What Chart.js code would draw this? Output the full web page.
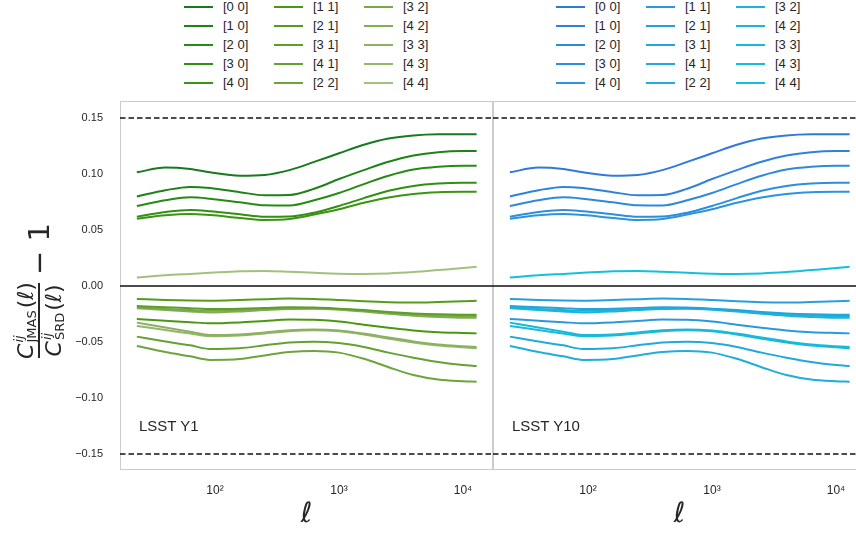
<!DOCTYPE html>
<html><head><meta charset="utf-8">
<script src="https://cdn.jsdelivr.net/npm/chart.js@4.4.0/dist/chart.umd.min.js"></script>
<style>
html,body{margin:0;padding:0;width:856px;height:535px;overflow:hidden;background:#fff;}
#wrap{position:relative;width:856px;height:535px;overflow:hidden;font-family:"Liberation Sans",Arial,sans-serif;color:#262626;}
canvas{position:absolute;}
.leg{position:absolute;font-size:13px;line-height:14px;height:14px;white-space:nowrap;}
.leg i{position:absolute;left:0;top:6px;width:29px;height:2px;}
.leg span{position:absolute;left:39px;top:0;}
.tag{position:absolute;font-size:15px;line-height:16px;white-space:nowrap;}
#ylab{position:absolute;font-family:"DejaVu Sans",sans-serif;color:#262626;white-space:nowrap;
 display:flex;align-items:center;justify-content:center;transform:rotate(-90deg);transform-origin:50% 50%;}
.frac{display:inline-flex;flex-direction:column;align-items:center;}
.num,.den{display:flex;align-items:center;font-size:22px;line-height:23px;padding:0 2px;}
.den{border-top:2px solid #262626;}
.ss{display:inline-flex;flex-direction:column;font-size:13px;line-height:13px;margin-left:1px;margin-right:2px;}
.ss .sp{font-style:italic;}
.m1{font-size:29px;margin-left:5px;}
</style>
</head><body><div id="wrap">
<canvas id="c1" width="493" height="440" style="left:0;top:95px;width:493px;height:440px"></canvas>
<canvas id="c2" width="373" height="440" style="left:493px;top:95px;width:373px;height:440px"></canvas>
<div id="ylab"><span class="frac"><span class="num"><i>C</i><span class="ss"><span class="sp">ij</span><span>JMAS</span></span>(<i>ℓ</i>)</span><span class="den"><i>C</i><span class="ss"><span class="sp">ij</span><span>SRD</span></span>(<i>ℓ</i>)</span></span><span class="m1">− 1</span></div>
<div class="tag" style="left:139px;top:418px">LSST Y1</div>
<div class="tag" style="left:512px;top:418px">LSST Y10</div>
</div>
<script>
// ---------- data ----------
const ell = [23.44, 39.81, 63.10, 91.20, 158.5, 251.2, 398.1, 631.0, 1000, 1585, 2512, 3981, 6310, 10000, 12882];
const labels = ['[0 0]','[1 0]','[2 0]','[3 0]','[4 0]','[1 1]','[2 1]','[3 1]','[4 1]','[2 2]','[3 2]','[4 2]','[3 3]','[4 3]','[4 4]'];
const s00 = [0.1015,0.1058,0.1045,0.1015,0.0985,0.0992,0.1035,0.1108,0.1185,0.1262,0.1318,0.1345,0.1355,0.1356,0.1355];
const s10 = [0.0800,0.0855,0.0885,0.0875,0.0838,0.0810,0.0812,0.0868,0.0955,0.1035,0.1110,0.1165,0.1195,0.1205,0.1205];
const s20 = [0.0714,0.0765,0.0792,0.0780,0.0748,0.0720,0.0718,0.0765,0.0830,0.0910,0.0985,0.1040,0.1065,0.1074,0.1074];
const s30 = [0.0619,0.0660,0.0679,0.0668,0.0640,0.0618,0.0620,0.0655,0.0715,0.0785,0.0850,0.0893,0.0915,0.0922,0.0922];
const s40 = [0.0601,0.0632,0.0643,0.0633,0.0608,0.0590,0.0598,0.0638,0.0685,0.0743,0.0790,0.0822,0.0838,0.0842,0.0842];
const s11 = [-0.0295,-0.0310,-0.0323,-0.0333,-0.0325,-0.0312,-0.0300,-0.0302,-0.0318,-0.0345,-0.0373,-0.0398,-0.0413,-0.0420,-0.0423];
const s21 = [-0.0116,-0.0125,-0.0130,-0.0131,-0.0125,-0.0118,-0.0112,-0.0115,-0.0125,-0.0137,-0.0145,-0.0147,-0.0143,-0.0137,-0.0132];
const s31 = [-0.0178,-0.0190,-0.0198,-0.0205,-0.0202,-0.0196,-0.0190,-0.0192,-0.0202,-0.0215,-0.0232,-0.0245,-0.0253,-0.0256,-0.0256];
const s41 = [-0.0452,-0.0495,-0.0530,-0.0562,-0.0555,-0.0530,-0.0505,-0.0497,-0.0510,-0.0545,-0.0595,-0.0640,-0.0678,-0.0705,-0.0714];
const s22 = [-0.0536,-0.0590,-0.0628,-0.0660,-0.0652,-0.0620,-0.0590,-0.0580,-0.0595,-0.0650,-0.0725,-0.0795,-0.0835,-0.0850,-0.0854];
const s32 = [-0.0190,-0.0205,-0.0215,-0.0222,-0.0215,-0.0205,-0.0198,-0.0198,-0.0206,-0.0220,-0.0238,-0.0253,-0.0263,-0.0268,-0.0268];
const s42 = [-0.0198,-0.0215,-0.0228,-0.0236,-0.0228,-0.0215,-0.0205,-0.0204,-0.0212,-0.0228,-0.0248,-0.0265,-0.0277,-0.0283,-0.0283];
const s33 = [-0.0327,-0.0370,-0.0408,-0.0438,-0.0432,-0.0415,-0.0395,-0.0388,-0.0398,-0.0425,-0.0460,-0.0495,-0.0522,-0.0538,-0.0545];
const s43 = [-0.0357,-0.0393,-0.0425,-0.0448,-0.0442,-0.0424,-0.0403,-0.0395,-0.0405,-0.0433,-0.0470,-0.0505,-0.0532,-0.0548,-0.0555];
const s44 = [0.0075,0.0095,0.0108,0.0118,0.0132,0.0135,0.0128,0.0118,0.0110,0.0108,0.0112,0.0124,0.0142,0.0160,0.0172];
// LSST Y1 and LSST Y10 curves read identical in the picture
const seriesY1 = [s00,s10,s20,s30,s40,s11,s21,s31,s41,s22,s32,s42,s33,s43,s44];
const seriesY10 = [s00,s10,s20,s30,s40,s11,s21,s31,s41,s22,s32,s42,s33,s43,s44];
const greens = ['#18791f','#1e8218','#268a14','#2f9012','#3b9412','#4a9812','#549b1e','#5c9e28','#65a132','#6ea43c','#79a848','#82ad54','#8bb160','#94b76c','#a2c17f'];
const blues = ['#3079d8','#2f82da','#2e89db','#2d8fdc','#2c94dd','#2a99dc','#289edc','#25a3dc','#22a8dc','#1fadda','#1cb2da','#19b6da','#17b9db','#15bcdb','#12c0dc'];
const refLevels = [0.15, 0.0, -0.15];
const xTicks = [100, 1000, 10000];
const xTickLabels = ['10²','10³','10⁴'];
const yTicks = [-0.15,-0.10,-0.05,0.00,0.05,0.10,0.15];
const X_MIN = 17.14, X_MAX = 17458, Y_MIN = -0.1643, Y_MAX = 0.1652;

// ---------- legends (HTML) ----------
function buildLegend(colX, colors){
  const wrap = document.getElementById('wrap');
  labels.forEach((lab,i)=>{
    const col = Math.floor(i/5), row = i%5;
    const d = document.createElement('div');
    d.className='leg';
    d.style.left = colX[col]+'px';
    d.style.top = (row*19)+'px';
    d.innerHTML = '<i style="background:'+colors[i]+'"></i><span>'+lab+'</span>';
    wrap.appendChild(d);
  });
}
buildLegend([184,274,364], greens);
buildLegend([556,646,736], blues);

// y label placement
const yl = document.getElementById('ylab');
yl.style.width='160px'; yl.style.height='64px';
yl.style.left=(39-80)+'px'; yl.style.top=(292-32)+'px';

// ---------- charts ----------
const framePlugin = {id:'frame', beforeDatasetsDraw(chart){
  const {ctx, chartArea:a} = chart;
  ctx.save(); ctx.strokeStyle='#cccccc'; ctx.lineWidth=1;
  ctx.strokeRect(a.left+0.5, a.top+0.5, a.right-a.left-1, a.bottom-a.top-1);
  ctx.restore();
}};

function makeChart(id, series, colors, showY){
  const ds = series.map((s,i)=>({
    label: labels[i],
    data: s.map((v,k)=>({x: ell[k], y: v})),
    borderColor: colors[i], borderWidth: 2, pointRadius: 0,
    cubicInterpolationMode: 'monotone', fill:false
  }));
  refLevels.forEach(v=>{
    ds.push({label:'ref', data:[{x:X_MIN,y:v},{x:X_MAX,y:v}], borderColor:'#111', borderWidth: v===0?1.6:1.5,
      borderDash: v===0?[]:[5.5,3], pointRadius:0, fill:false});
  });
  return new Chart(document.getElementById(id), {
    type:'line',
    data:{datasets: ds},
    plugins:[framePlugin],
    options:{
      responsive:false, animation:false, devicePixelRatio:1,
      layout:{padding:{top:6,left:0,right:0,bottom:0}},
      plugins:{legend:{display:false}, tooltip:{enabled:false}},
      scales:{
        x:{type:'logarithmic', min:X_MIN, max:X_MAX,
          grid:{display:false, drawTicks:false}, border:{display:false},
          afterBuildTicks:(sc)=>{sc.ticks = xTicks.map(v=>({value:v}));},
          afterFit:(sc)=>{sc.height=65; sc.paddingLeft=0; sc.paddingRight=0;},
          ticks:{autoSkip:false, maxRotation:0, padding:13, color:'#262626',
            font:{family:'"Liberation Sans", Arial, sans-serif', size:12},
            callback:(v)=>{const i=xTicks.indexOf(v); return i>=0?xTickLabels[i]:'';}},
          title:{display:true, text:'ℓ', color:'#262626', padding:{top:0,bottom:3},
            font:{family:'"DejaVu Sans", sans-serif', style:'italic', size:28}}
        },
        y:{display:showY, min:Y_MIN, max:Y_MAX,
          grid:{display:false, drawTicks:false}, border:{display:false},
          afterBuildTicks:(sc)=>{sc.ticks = yTicks.map(v=>({value:v}));},
          afterFit:(sc)=>{sc.width = showY ? 120 : 0; sc.paddingTop=0; sc.paddingBottom=0;},
          ticks:{padding:17, color:'#262626',
            font:{family:'"Liberation Sans", Arial, sans-serif', size:11},
            callback:(v)=>{const s=Math.abs(v).toFixed(2); return (v< -1e-9?'−':'')+s;}}
        }
      }
    }
  });
}
makeChart('c1', seriesY1, greens, true);
makeChart('c2', seriesY10, blues, false);
</script>
</body></html>
